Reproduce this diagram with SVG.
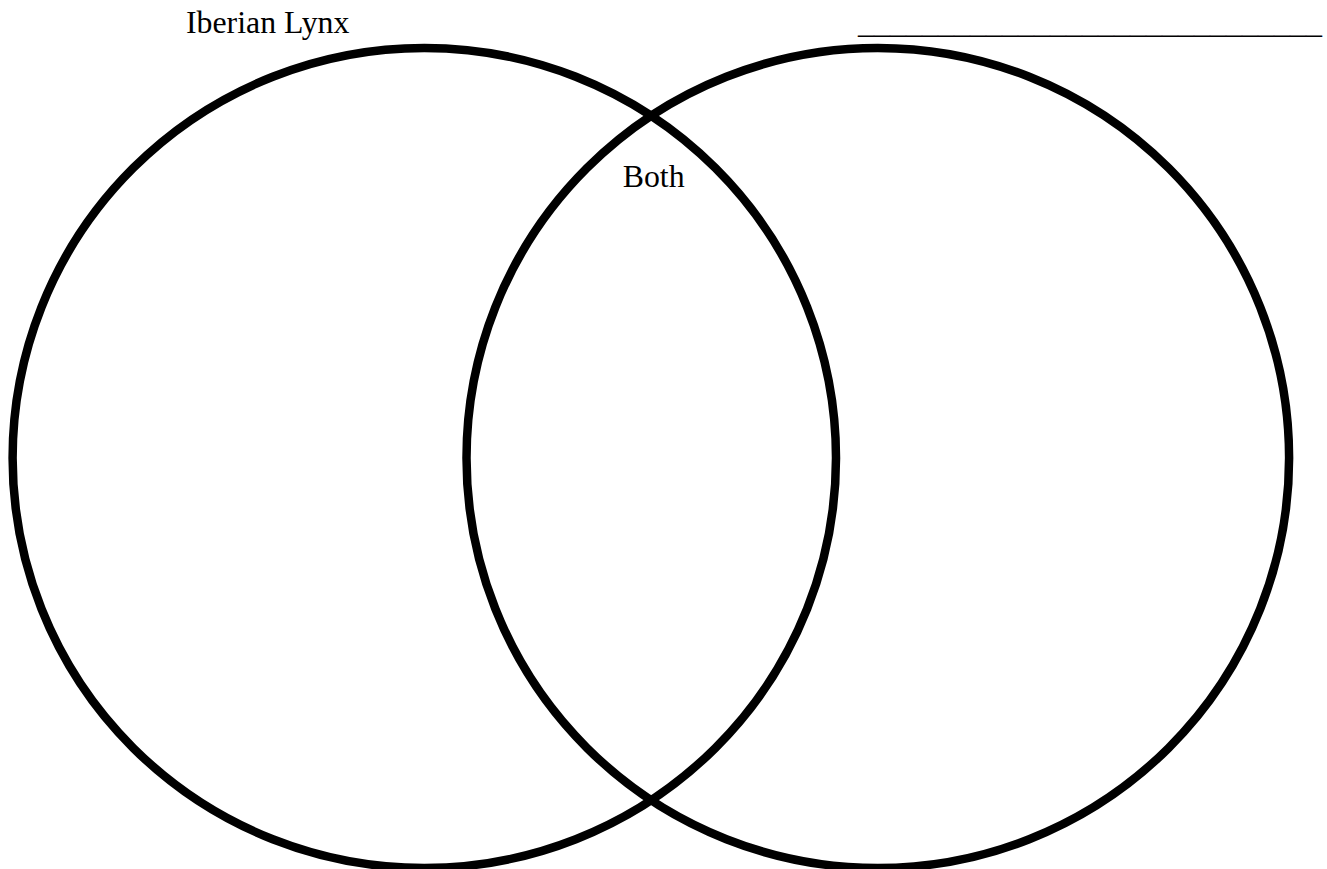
<svg xmlns="http://www.w3.org/2000/svg" width="1327" height="869" viewBox="0 0 1327 869">
<style>
.ring{fill:none;stroke:#000;stroke-width:8.5}
.lbl{font-family:"Liberation Serif","Times New Roman",serif;font-size:31.8px;fill:#000}
</style>
<rect width="1327" height="869" fill="#fff"/>
<g id="circle-left"><ellipse class="ring" cx="424.3" cy="458" rx="411.7" ry="410"/></g>
<g id="circle-right"><ellipse class="ring" cx="877.8" cy="458" rx="411.3" ry="410"/></g>
<g id="label-left"><text class="lbl" x="186" y="33.3">Iberian Lynx</text></g>
<g id="label-right"><text class="lbl" x="858" y="33.3" textLength="464" lengthAdjust="spacingAndGlyphs" fill="#222">_____________________________</text></g>
<g id="label-both"><text class="lbl" x="622.7" y="186.7">Both</text></g>
<g id="connectors"/>
</svg>
